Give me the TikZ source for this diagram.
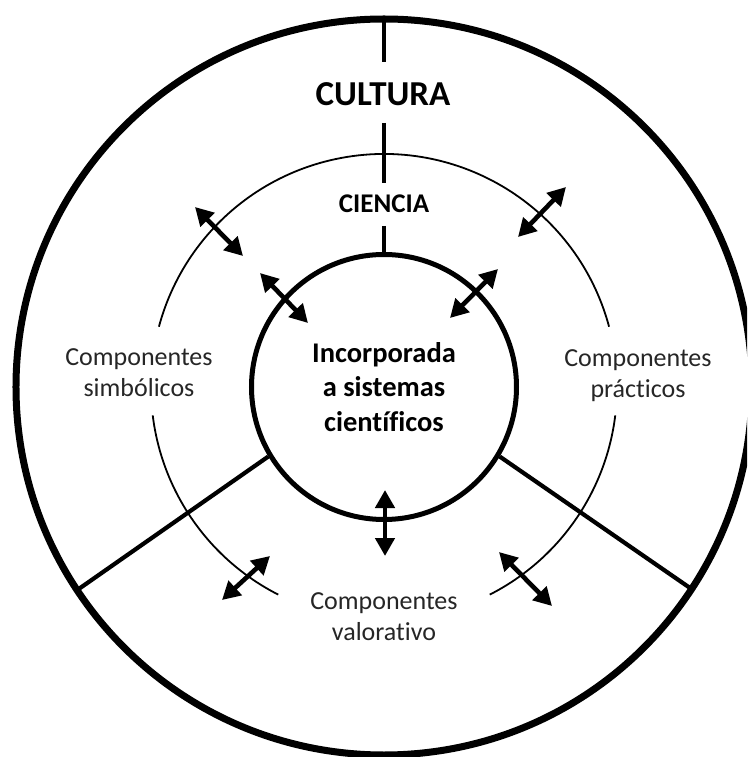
\documentclass[tikz,border=0pt]{standalone}
\usepackage{fontspec}
\setmainfont{Carlito}[Ligatures={NoCommon}]
\usetikzlibrary{arrows.meta}
\begin{document}
\begin{tikzpicture}[x=1pt,y=1pt,
  outerring/.style={line width=7pt},
  midring/.style={line width=1.8pt},
  bar/.style={line width=4.2pt},
  dbl/.style={line width=4.6pt,{Triangle[length=18pt,width=19pt]}-{Triangle[length=18pt,width=19pt]}},
  core/.style={circle,draw,line width=5pt,minimum size=265pt,inner sep=0pt,align=center,
    font=\bfseries\fontsize{28.5}{34.5}\selectfont},
  title/.style={inner sep=0pt,font=\bfseries\fontsize{35}{42}\selectfont},
  subtitle/.style={inner sep=0pt,font=\bfseries\fontsize{27}{32}\selectfont},
  comp/.style={inner sep=0pt,align=center,font=\fontsize{26}{31}\selectfont,text=black!85}]
\useasboundingbox (-384,-370) rectangle (363,387);
\clip (-384,-370) rectangle (363,387);
% outer ring
\draw[outerring] (0,0) circle[radius=368];
% middle (science) ring, three arcs
\draw[midring] (15:233) arc[start angle=15,end angle=165,radius=233];
\draw[midring] (187:233) arc[start angle=187,end angle=243,radius=233];
\draw[midring] (-63:233) arc[start angle=-63,end angle=-7,radius=233];
% core
\node[core] (core) at (0,0) {Incorporada\\a sistemas\\científicos};
% texts
\node[title] (cultura) at (-1,293) {CULTURA};
\node[subtitle] (ciencia) at (0,183) {CIENCIA};
\node[comp] (simb) at (-245,14) {Componentes\\simbólicos};
\node[comp] (prac) at (254,11.5) {Componentes\\prácticos};
\node[comp] (valo) at (0,-229.5) {Componentes\\valorativo};
% vertical divider
\coordinate (t0) at (0,368);
\coordinate (t1) at (0,325);
\coordinate (t2) at (0,264);
\coordinate (t3) at (0,204);
\coordinate (t4) at (0,161);
\draw[bar] (t0) -- (t1);
\draw[bar] (t2) -- (t3);
\draw[bar] (t4) -- (core.north);
% lower dividers
\coordinate (rR) at (-33.3:368);
\coordinate (rL) at (213.5:368);
\draw[bar] (core.-31) -- (rR);
\draw[bar] (core.211) -- (rL);
% double arrows
\coordinate (a1s) at (-189,180); \coordinate (a1e) at (-141,131);
\coordinate (a2s) at (-124,114); \coordinate (a2e) at (-76,64);
\coordinate (a3s) at (182,200);  \coordinate (a3e) at (134,150);
\coordinate (a4s) at (114,118);  \coordinate (a4e) at (66,69);
\coordinate (a5s) at (1,-103);   \coordinate (a5e) at (1,-169);
\coordinate (a6s) at (-114,-169); \coordinate (a6e) at (-162,-213);
\coordinate (a7s) at (115,-165); \coordinate (a7e) at (168,-219);
\draw[dbl] (a1s) -- (a1e);
\draw[dbl] (a2s) -- (a2e);
\draw[dbl] (a3s) -- (a3e);
\draw[dbl] (a4s) -- (a4e);
\draw[dbl] (a5s) -- (a5e);
\draw[dbl] (a6s) -- (a6e);
\draw[dbl] (a7s) -- (a7e);
\end{tikzpicture}
\end{document}
